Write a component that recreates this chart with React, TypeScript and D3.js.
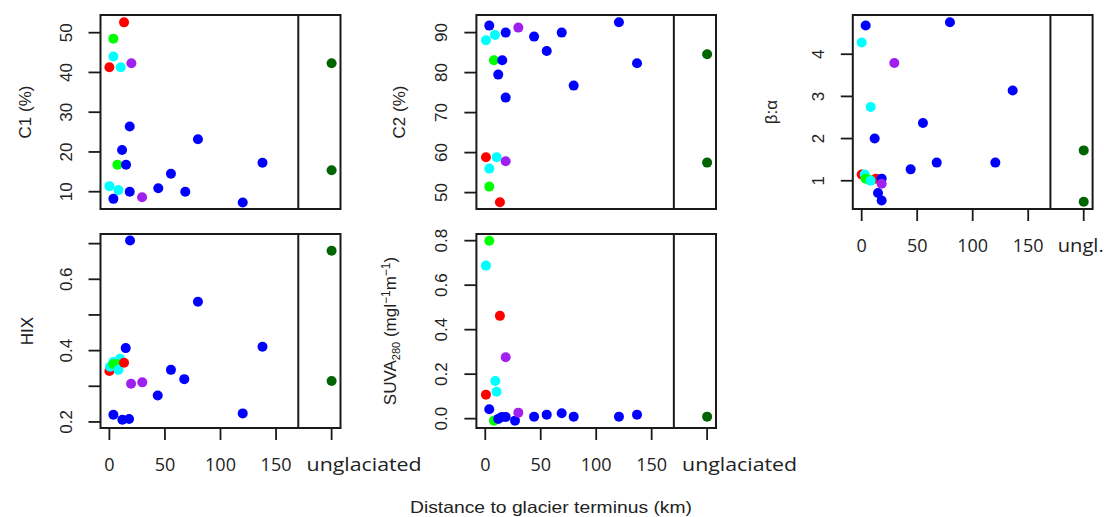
import React from "react";
import * as d3 from "d3";

type Pt = [number, number, string]; // [distance km, value, site group]

const UNGLACIATED_KM = 200;
const DIVIDER_KM = 170;

const distanceTicks = [0, 50, 100, 150, UNGLACIATED_KM];
const distanceTickLabels = ["0", "50", "100", "150", "unglaciated"];
const distanceTickLabelsShort = ["0", "50", "100", "150", "ungl."];

const groupColor: Record<string, string> = {
  S1: "#0000FF",
  S2: "#FF0000",
  S3: "#00FF00",
  S4: "#00FFFF",
  S5: "#A020F0",
  U: "#006400",
};

const c1Points: Pt[] = [
  [0, 41.3, "S2"], [13.2, 52.6, "S2"],
  [3.6, 48.5, "S3"], [7.2, 16.8, "S3"],
  [3.6, 44.0, "S4"], [10.2, 41.3, "S4"], [0, 11.4, "S4"], [8.1, 10.4, "S4"],
  [19.8, 42.3, "S5"], [29.4, 8.6, "S5"],
  [3.6, 8.2, "S1"], [11.4, 20.5, "S1"], [15, 16.8, "S1"], [18.3, 26.4, "S1"], [18.3, 10.0, "S1"],
  [44, 10.85, "S1"], [55.4, 14.5, "S1"], [68.3, 10.0, "S1"], [79.7, 23.2, "S1"], [120, 7.3, "S1"], [137.8, 17.3, "S1"],
  [UNGLACIATED_KM, 42.3, "U"], [UNGLACIATED_KM, 15.4, "U"],
];

const c2Points: Pt[] = [
  [0.6, 58.85, "S2"], [13.2, 47.6, "S2"],
  [7.8, 83.1, "S3"], [3.6, 51.5, "S3"],
  [8.7, 89.4, "S4"], [0.6, 88.1, "S4"], [10.3, 58.85, "S4"], [3.6, 56.0, "S4"],
  [29.8, 91.25, "S5"], [18.4, 57.85, "S5"],
  [3.6, 91.75, "S1"], [11.7, 79.5, "S1"], [15.3, 83.1, "S1"], [18.4, 90.0, "S1"], [18.4, 73.75, "S1"],
  [44, 89.0, "S1"], [55.4, 85.4, "S1"], [68.9, 90.0, "S1"], [79.7, 76.75, "S1"], [120.5, 92.6, "S1"], [136.8, 82.35, "S1"],
  [UNGLACIATED_KM, 84.6, "U"], [UNGLACIATED_KM, 57.5, "U"],
];

const betaAlphaPoints: Pt[] = [
  [0, 1.15, "S2"], [12.9, 1.05, "S2"],
  [0, 4.28, "S4"], [8.1, 2.75, "S4"], [2.7, 1.15, "S4"],
  [3.6, 1.05, "S3"], [7.2, 1.02, "S3"], [8.1, 1.0, "S4"],
  [3.6, 4.68, "S1"], [79.5, 4.76, "S1"], [136, 3.14, "S1"], [55.2, 2.37, "S1"], [11.7, 2.0, "S1"],
  [67.6, 1.43, "S1"], [120.4, 1.43, "S1"], [44.1, 1.27, "S1"], [18, 1.05, "S1"], [14.7, 0.71, "S1"], [18, 0.53, "S1"],
  [29.4, 3.79, "S5"], [18, 0.93, "S5"],
  [UNGLACIATED_KM, 1.72, "U"], [UNGLACIATED_KM, 0.5, "U"],
];

const hixPoints: Pt[] = [
  [0, 0.343, "S2"],
  [0.6, 0.355, "S4"], [3.6, 0.368, "S4"], [9.6, 0.377, "S4"],
  [3.6, 0.362, "S3"], [7.0, 0.362, "S3"],
  [8.1, 0.346, "S4"], [13.2, 0.366, "S2"],
  [19.5, 0.307, "S5"], [29.6, 0.311, "S5"],
  [18.6, 0.709, "S1"], [79.7, 0.537, "S1"], [137.8, 0.411, "S1"], [14.7, 0.407, "S1"], [55.4, 0.346, "S1"],
  [67.4, 0.32, "S1"], [43.5, 0.274, "S1"], [120, 0.224, "S1"], [3.6, 0.22, "S1"], [11.7, 0.206, "S1"], [17.7, 0.208, "S1"],
  [UNGLACIATED_KM, 0.68, "U"], [UNGLACIATED_KM, 0.315, "U"],
];

const suvaPoints: Pt[] = [
  [3.6, 0.8, "S3"], [7.8, -0.009, "S3"],
  [0.6, 0.688, "S4"], [9.0, 0.169, "S4"], [10.2, 0.121, "S4"],
  [13.2, 0.462, "S2"], [0.6, 0.108, "S2"],
  [3.6, 0.042, "S1"], [11.7, -0.001, "S1"], [15, 0.008, "S1"], [18.4, 0.008, "S1"], [26.8, -0.009, "S1"],
  [44, 0.009, "S1"], [55.4, 0.018, "S1"], [68.9, 0.024, "S1"], [79.7, 0.009, "S1"], [120.5, 0.009, "S1"], [136.8, 0.018, "S1"],
  [18.4, 0.276, "S5"], [29.8, 0.027, "S5"],
  [UNGLACIATED_KM, 0.009, "U"],
];

const c1Ticks = [10, 20, 30, 40, 50];
const c2Ticks = [50, 60, 70, 80, 90];
const betaAlphaTicks = [1, 2, 3, 4];
const hixTicks = [0.2, 0.3, 0.4, 0.5, 0.6, 0.7];
const hixTickLabels = ["0.2", "", "0.4", "", "0.6", ""];
const suvaTicks = [0, 0.2, 0.4, 0.6, 0.8];
const suvaTickLabels = ["0.0", "0.2", "0.4", "0.6", "0.8"];

const xDomain: [number, number] = [-8, 208];

type Box = { x0: number; x1: number; y0: number; y1: number };

type PanelSpec = {
  id: string;
  box: Box;
  yDomain: [number, number];
  yTicks: number[];
  yTickLabels: string[];
  points: Pt[];
  yLabel: React.ReactNode;
  yLabelOffset: number;
  xLabels: string[] | null;
  lastLabelMode: "start" | "middle";
  lastLabelLength: number;
};

const panels: PanelSpec[] = [
  {
    id: "c1",
    box: { x0: 100.5, x1: 340.5, y0: 15, y1: 209 },
    yDomain: [5.65, 54.45],
    yTicks: c1Ticks,
    yTickLabels: c1Ticks.map(String),
    points: c1Points,
    yLabel: "C1 (%)",
    yLabelOffset: 70,
    xLabels: null,
    lastLabelMode: "start",
    lastLabelLength: 115,
  },
  {
    id: "c2",
    box: { x0: 476.4, x1: 716, y0: 15, y1: 209 },
    yDomain: [45.9, 94.4],
    yTicks: c2Ticks,
    yTickLabels: c2Ticks.map(String),
    points: c2Points,
    yLabel: "C2 (%)",
    yLabelOffset: 71,
    xLabels: null,
    lastLabelMode: "start",
    lastLabelLength: 115,
  },
  {
    id: "ba",
    box: { x0: 852.8, x1: 1092.6, y0: 15, y1: 209 },
    yDomain: [0.33, 4.93],
    yTicks: betaAlphaTicks,
    yTickLabels: betaAlphaTicks.map(String),
    points: betaAlphaPoints,
    yLabel: "β:α",
    yLabelOffset: 76,
    xLabels: distanceTickLabelsShort,
    lastLabelMode: "middle",
    lastLabelLength: 46,
  },
  {
    id: "hix",
    box: { x0: 100.5, x1: 340.5, y0: 234, y1: 428 },
    yDomain: [0.183, 0.727],
    yTicks: hixTicks,
    yTickLabels: hixTickLabels,
    points: hixPoints,
    yLabel: "HIX",
    yLabelOffset: 68,
    xLabels: distanceTickLabels,
    lastLabelMode: "start",
    lastLabelLength: 115,
  },
  {
    id: "suva",
    box: { x0: 476.4, x1: 716, y0: 234, y1: 428 },
    yDomain: [-0.042, 0.83],
    yTicks: suvaTicks,
    yTickLabels: suvaTickLabels,
    points: suvaPoints,
    yLabel: (
      <>
        SUVA
        <tspan dy={4} fontSize={11}>280</tspan>
        <tspan dy={-4}> (mgl</tspan>
        <tspan dy={-6} fontSize={12}>−1</tspan>
        <tspan dy={6}>m</tspan>
        <tspan dy={-6} fontSize={12}>−1</tspan>
        <tspan dy={6}>)</tspan>
      </>
    ),
    yLabelOffset: 80,
    xLabels: distanceTickLabels,
    lastLabelMode: "start",
    lastLabelLength: 115,
  },
];

const AXIS_FONT = "'Liberation Sans', Arial, sans-serif";
const XTICK_FONT = "'Open Sans', 'Liberation Sans', sans-serif";
const INK = "#1a1a1a";
const TICK_LEN = 12;

function Panel({ spec }: { spec: PanelSpec }) {
  const { box } = spec;
  const x = d3.scaleLinear().domain(xDomain).range([box.x0, box.x1]);
  const y = d3.scaleLinear().domain(spec.yDomain).range([box.y1, box.y0]);
  const cy = (box.y0 + box.y1) / 2;
  return (
    <g>
      {spec.points.map((p, i) => (
        <circle key={i} cx={x(p[0])} cy={y(p[1])} r={5} fill={groupColor[p[2]]} />
      ))}
      <rect
        x={box.x0}
        y={box.y0}
        width={box.x1 - box.x0}
        height={box.y1 - box.y0}
        fill="none"
        stroke={INK}
        strokeWidth={2}
      />
      <line x1={x(DIVIDER_KM)} x2={x(DIVIDER_KM)} y1={box.y0} y2={box.y1} stroke={INK} strokeWidth={2} />
      {spec.yTicks.map((t, i) => (
        <g key={"yt" + i}>
          <line x1={box.x0 - TICK_LEN} x2={box.x0} y1={y(t)} y2={y(t)} stroke={INK} strokeWidth={1.8} />
          {spec.yTickLabels[i] ? (
            <text
              transform={`translate(${box.x0 - 29},${y(t)}) rotate(-90)`}
              textAnchor="middle"
              fontFamily={AXIS_FONT}
              fontSize={17}
              fill="#222"
            >
              {spec.yTickLabels[i]}
            </text>
          ) : null}
        </g>
      ))}
      <text
        transform={`translate(${box.x0 - spec.yLabelOffset},${cy}) rotate(-90)`}
        textAnchor="middle"
        fontFamily={AXIS_FONT}
        fontSize={17}
        fill="#222"
      >
        {spec.yLabel}
      </text>
      {spec.xLabels
        ? distanceTicks.map((t, i) => {
            const last = i === distanceTicks.length - 1;
            const tx = x(t);
            const labelProps: any = {};
            let lx = tx;
            let anchor = "middle";
            if (last) {
              labelProps.textLength = spec.lastLabelLength;
              labelProps.lengthAdjust = "spacingAndGlyphs";
              if (spec.lastLabelMode === "start") {
                lx = tx - 25;
                anchor = "start";
              } else {
                lx = tx - 3;
              }
            }
            return (
              <g key={"xt" + i}>
                <line x1={tx} x2={tx} y1={box.y1} y2={box.y1 + TICK_LEN} stroke={INK} strokeWidth={1.8} />
                <text
                  x={lx}
                  y={box.y1 + 42.5}
                  textAnchor={anchor}
                  fontFamily={XTICK_FONT}
                  fontSize={18}
                  fill="#222"
                  {...labelProps}
                >
                  {spec.xLabels![i]}
                </text>
              </g>
            );
          })
        : null}
    </g>
  );
}

export default function App() {
  return (
    <div style={{ position: "absolute", left: 0, top: 0 }}>
      <svg width={1104} height={517} style={{ display: "block", background: "#ffffff" }}>
        {panels.map((p) => (
          <Panel key={p.id} spec={p} />
        ))}
        <text
          x={551}
          y={513}
          textAnchor="middle"
          fontFamily={AXIS_FONT}
          fontSize={16.5}
          fill="#222"
          textLength={282}
          lengthAdjust="spacingAndGlyphs"
        >
          Distance to glacier terminus (km)
        </text>
      </svg>
    </div>
  );
}
